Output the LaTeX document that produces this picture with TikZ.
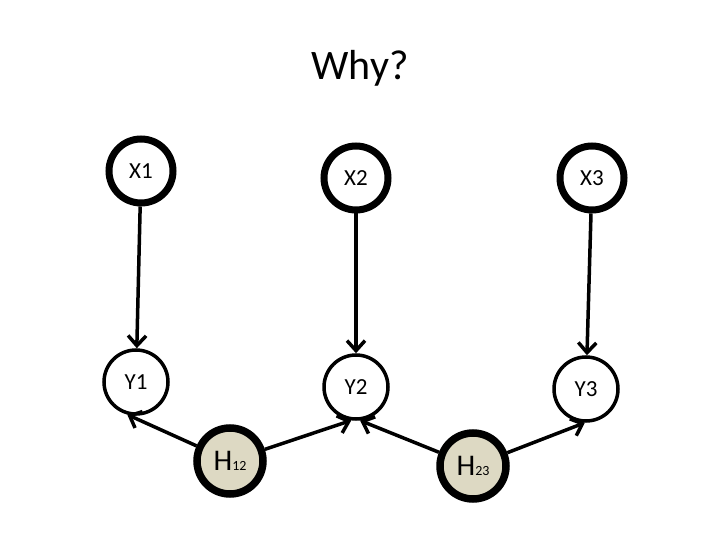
\documentclass[tikz,border=0pt]{standalone}
\usepackage{fontspec}
\setmainfont{Carlito}
\usetikzlibrary{arrows.meta}
\definecolor{hidfill}{HTML}{DDD9C3}
\tikzset{
  obsx/.style={
    circle,
    draw=black,
    line width=7pt,
    fill=white,
    minimum size=64pt,
    inner sep=0pt,
    font=\fontsize{23}{26}\selectfont
  },
  obsy/.style={
    circle,
    draw=black,
    line width=3.5pt,
    fill=white,
    minimum size=64pt,
    inner sep=0pt,
    font=\fontsize{23}{26}\selectfont
  },
  hidden/.style={
    circle,
    draw=black,
    line width=7.5pt,
    fill=hidfill,
    minimum size=66pt,
    inner sep=0pt,
    font=\fontsize{30}{32}\selectfont
  },
  edge/.style={-{Straight Barb[length=10pt,width=18pt]}, line width=3.5pt},
  title/.style={font=\fontsize{42}{46}\selectfont}
}
\newcommand{\subidx}[1]{{\fontsize{14}{16}\selectfont #1}}

\begin{document}
\begin{tikzpicture}[x=1pt, y=-1pt]
  \path[use as bounding box] (0,0) rectangle (720,540);
  \node[title] (ttl) at (360,68) {Why?};
  % observed inputs
  \node[obsx] (x1) at (141,171) {X1};
  \node[obsx] (x2) at (356,178) {X2};
  \node[obsx] (x3) at (592,178) {X3};
  % outputs
  \node[obsy] (y1) at (136,382) {Y1};
  \node[obsy] (y2) at (356,387) {Y2};
  \node[obsy] (y3) at (586,389) {Y3};
  % hidden
  \node[hidden] (h12) at (230,461) {H\subidx{12}};
  \node[hidden] (h23) at (473,466) {H\subidx{23}};
  \draw[edge] (x1) -- (y1);
  \draw[edge] (x2) -- (y2);
  \draw[edge] (x3) -- (y3);
  \draw[edge] (h12) -- (y1.255);
  \draw[edge] (h12) -- (y2.262);
  \draw[edge] (h23) -- (y2.277);
  \draw[edge] (h23) -- (y3.268);
\end{tikzpicture}
\end{document}
